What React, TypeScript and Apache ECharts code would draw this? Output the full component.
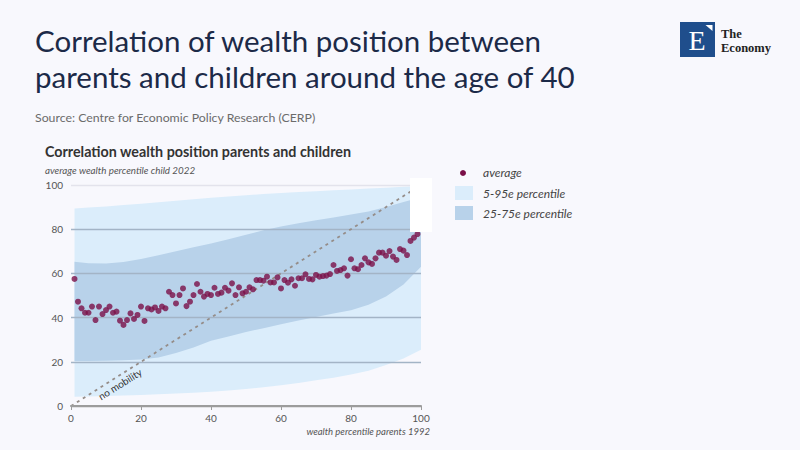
import React, { useEffect, useRef } from "react";
import * as echarts from "echarts";

// ---- data ----
const parentPct = Array.from({ length: 99 }, (_, i) => i + 1);
const childAvg = [
  57.5, 47.2, 44.2, 42.2, 42.2, 45, 38.9, 45, 41.6, 43.4,
  45, 42.2, 42.7, 38.6, 36.7, 38.9, 41.9, 39.4, 41.2, 45,
  38.5, 44.2, 43.7, 44.6, 43, 45, 44.2, 51.7, 50.2, 46.4,
  50.2, 53.2, 45.2, 47.2, 50.2, 55.2, 51.7, 49.5, 50.7, 50.2,
  53.5, 50.7, 51.3, 53.5, 52.2, 55.5, 50.2, 53.7, 51, 51.7,
  53.7, 52.8, 57, 57, 56.7, 58.5, 55.9, 55.9, 58.2, 53.2,
  57, 55.8, 57.3, 54.4, 57.8, 57.8, 59.6, 57.5, 57.3, 59.3,
  58.5, 58.8, 59, 59.7, 63.8, 61.1, 61.5, 62.3, 59, 66.4,
  62.3, 61.9, 63.8, 66.8, 65, 64.3, 66.8, 69.4, 69.4, 68,
  70.1, 67.6, 66.1, 71, 70.3, 68.3, 74.7, 76.2, 77.8,
];
const bandX = [1, 5, 10, 15, 20, 25, 30, 35, 40, 45, 50, 55, 60, 65, 70, 75, 80, 85, 90, 95, 100];
const p5 = [4.2, 4.3, 4.5, 4.8, 5, 5.3, 5.6, 6, 6.5, 7, 7.7, 8.5, 9.4, 10.4, 11.6, 12.8, 14.2, 16, 18.5, 21.5, 25.5];
const p95 = [89.4, 89.8, 90.3, 90.9, 91.5, 92.2, 92.9, 93.6, 94.2, 94.8, 95.4, 95.9, 96.4, 96.8, 97.2, 97.6, 98, 98.4, 98.8, 99.2, 99.6];
const p25 = [20.4, 20.4, 20.5, 20.7, 21, 22, 24, 26.5, 29.5, 31.5, 33.5, 35.2, 37, 38.7, 40.3, 41.8, 43.3, 45.8, 49.5, 55, 63];
const p75 = [65.3, 64.6, 64.5, 65.2, 66.5, 68.2, 70, 71.8, 73.5, 75.5, 77.5, 79.5, 81.2, 82.7, 84.1, 85.3, 86.6, 88, 90, 92.3, 94.5];
const noMobility = [[0, 0], [100, 100]];

const titleLines = [
  "Correlation of wealth position between",
  "parents and children around the age of 40",
];
const sourceText = "Source: Centre for Economic Policy Research (CERP)";
const chartTitle = "Correlation wealth position parents and children";
const chartSubtitle = "average wealth percentile child 2022";
const xAxisName = "wealth percentile parents 1992";
const legendLabels = ["average", "5-95e percentile", "25-75e percentile"];
const logoLines = ["The", "Economy"];

const BG = "#f8f8fd";
const OUTER = "#dbedfb";
const INNER = "#b8d2ea";
const DOT = "#7a1048";

function band(lo: number[], hi: number[], color: string, name: string) {
  return {
    type: "custom",
    name,
    z: 1,
    silent: true,
    data: [[0, 0]],
    renderItem: (_params: any, api: any) => {
      const top = bandX.map((x, i) => api.coord([x, hi[i]]));
      const bottom = bandX.map((x, i) => api.coord([x, lo[i]])).reverse();
      return {
        type: "polygon",
        shape: { points: top.concat(bottom) },
        style: { fill: color },
      };
    },
  };
}

export default function App() {
  const ref = useRef<HTMLDivElement>(null);
  useEffect(() => {
    if (!ref.current) return;
    const chart = echarts.init(ref.current, undefined, { renderer: "svg" });
    const sans = "Lato";
    chart.setOption({
      animation: false,
      backgroundColor: BG,
      grid: { left: 71, right: 379, top: 185, bottom: 44 },
      xAxis: {
        type: "value",
        min: 0,
        max: 100,
        interval: 20,
        z: 4,
        axisLine: { lineStyle: { color: "#9c9c9c", width: 2 } },
        axisTick: { show: true, length: 4, lineStyle: { color: "#9c9c9c" } },
        axisLabel: { color: "#555", fontSize: 10, fontFamily: sans, margin: 7 },
        splitLine: { show: false },
      },
      yAxis: {
        type: "value",
        min: 0,
        max: 100,
        interval: 20,
        z: 2,
        axisLine: { show: false },
        axisTick: { show: false },
        axisLabel: { color: "#555", fontSize: 10, fontFamily: sans, margin: 8 },
        splitLine: {
          lineStyle: {
            color: ["#9c9c9c", "#a3b4c6", "#a3b4c6", "#a3b4c6", "#a3b4c6", "#e3e3ec"],
            width: 1.3,
          },
        },
      },
      series: [
        band(p5, p95, OUTER, "5-95e percentile"),
        band(p25, p75, INNER, "25-75e percentile"),
        {
          type: "line",
          name: "no mobility",
          data: noMobility,
          z: 3,
          symbol: "none",
          silent: true,
          lineStyle: { color: "#958d89", width: 1.8, type: [3, 4] },
        },
        {
          type: "scatter",
          name: "average",
          z: 5,
          data: parentPct.map((x, i) => [x, childAvg[i]]),
          symbolSize: 6,
          itemStyle: { color: DOT },
        },
      ],
      graphic: [
        { type: "rect", shape: { x: 410, y: 178, width: 22, height: 54 }, style: { fill: "#ffffff" }, z: 10 },
        { type: "text", x: 35, y: 40, style: { text: titleLines[0], fontSize: 29.5, fontFamily: sans, fill: "#1c2a48", textVerticalAlign: "middle" } },
        { type: "text", x: 35, y: 76, style: { text: titleLines[1], fontSize: 29.5, fontFamily: sans, fill: "#1c2a48", textVerticalAlign: "middle" } },
        { type: "text", x: 35, y: 117, style: { text: sourceText, fontSize: 12.3, fontFamily: sans, fill: "#6b6b6b", textVerticalAlign: "middle" } },
        { type: "text", x: 45, y: 151, style: { text: chartTitle, fontSize: 14.3, fontWeight: "bold", fontFamily: sans, fill: "#333", textVerticalAlign: "middle" } },
        { type: "text", x: 45, y: 170, style: { text: chartSubtitle, fontSize: 9.8, fontStyle: "italic", fontFamily: sans, fill: "#555", textVerticalAlign: "middle" } },
        { type: "text", x: 430, y: 431, style: { text: xAxisName, fontSize: 9.5, fontStyle: "italic", fontFamily: sans, fill: "#555", textAlign: "right", textVerticalAlign: "middle" } },
        { type: "text", x: 120, y: 384, rotation: 0.56, z: 6, style: { text: "no mobility", fontSize: 10, fontFamily: sans, fill: "#333", textAlign: "center", textVerticalAlign: "middle" } },
        // legend
        { type: "circle", shape: { cx: 463, cy: 173, r: 3 }, style: { fill: DOT } },
        { type: "rect", shape: { x: 455, y: 186, width: 18, height: 14 }, style: { fill: OUTER } },
        { type: "rect", shape: { x: 455, y: 206, width: 18, height: 14 }, style: { fill: INNER } },
        { type: "text", x: 483, y: 172, style: { text: legendLabels[0], fontSize: 12, fontStyle: "italic", fontFamily: sans, fill: "#444", textVerticalAlign: "middle" } },
        { type: "text", x: 483, y: 193, style: { text: legendLabels[1], fontSize: 12, fontStyle: "italic", fontFamily: sans, fill: "#444", textVerticalAlign: "middle" } },
        { type: "text", x: 483, y: 213, style: { text: legendLabels[2], fontSize: 12, fontStyle: "italic", fontFamily: sans, fill: "#444", textVerticalAlign: "middle" } },
        // logo
        { type: "rect", shape: { x: 680, y: 22, width: 35, height: 35 }, style: { fill: "#1f4e8c" } },
        { type: "text", x: 697, y: 40, style: { text: "E", fontSize: 28, fontFamily: "Liberation Serif", fill: "#ffffff", textAlign: "center", textVerticalAlign: "middle" } },
        { type: "polygon", shape: { points: [[705.5, 25], [712.5, 25], [712.5, 31]] }, style: { fill: "#ffffff" } },
        { type: "text", x: 721, y: 34, style: { text: logoLines[0], fontSize: 12.5, fontWeight: "bold", fontFamily: "Liberation Serif", fill: "#222", textVerticalAlign: "middle" } },
        { type: "text", x: 721, y: 47.5, style: { text: logoLines[1], fontSize: 12.5, fontWeight: "bold", fontFamily: "Liberation Serif", fill: "#222", textVerticalAlign: "middle" } },
      ],
    });
    return () => chart.dispose();
  }, []);
  return (
    <div
      ref={ref}
      style={{ position: "fixed", left: 0, top: 0, width: 800, height: 450 }}
    />
  );
}
